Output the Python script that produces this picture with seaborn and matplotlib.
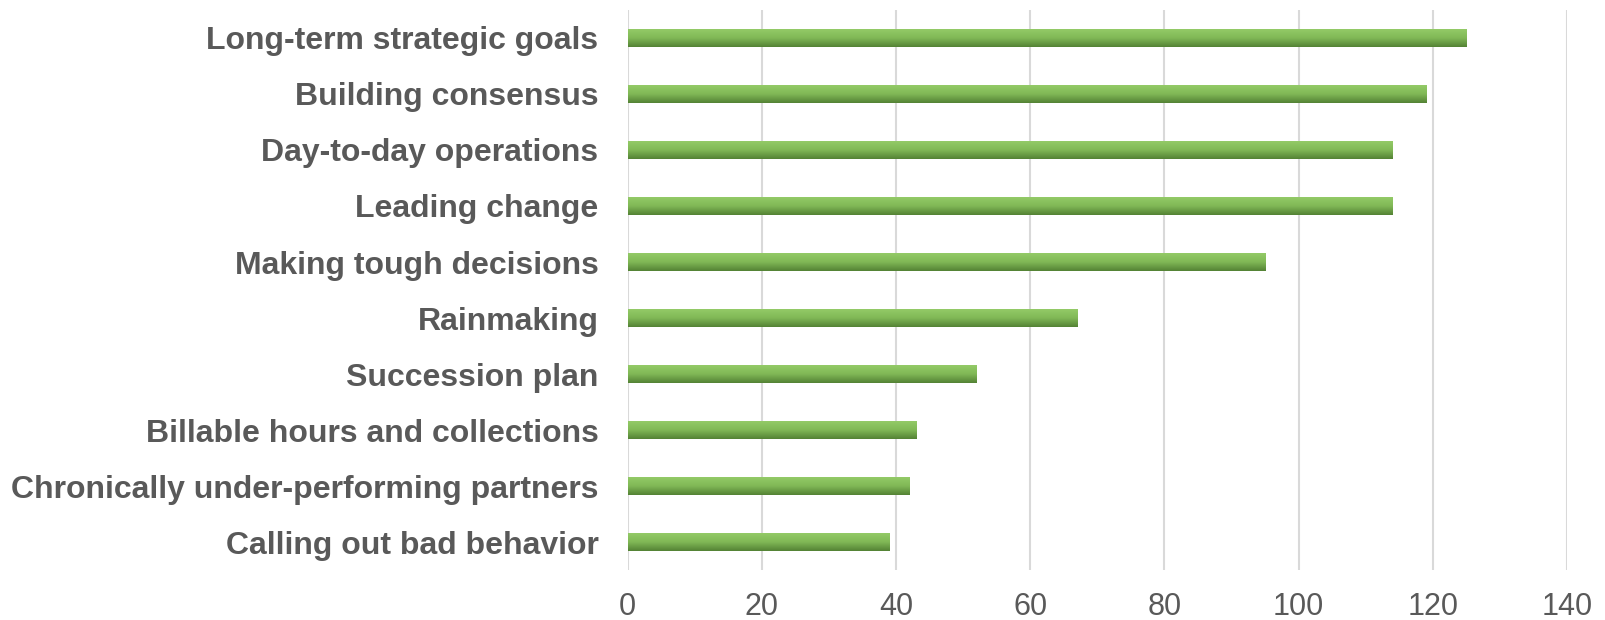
import numpy as np
import pandas as pd
import matplotlib
matplotlib.use("Agg")
import matplotlib.pyplot as plt
from matplotlib.colors import LinearSegmentedColormap
import seaborn as sns

categories = [
    "Long-term strategic goals",
    "Building consensus",
    "Day-to-day operations",
    "Leading change",
    "Making tough decisions",
    "Rainmaking",
    "Succession plan",
    "Billable hours and collections",
    "Chronically under-performing partners",
    "Calling out bad behavior",
]
values = [125, 119, 114, 114, 95, 67, 52, 43, 42, 39]
x_ticks = [0, 20, 40, 60, 80, 100, 120, 140]

df = pd.DataFrame({"category": categories, "value": values})

sns.set_theme(style="white")
plt.rcParams["font.family"] = ["Liberation Sans", "DejaVu Sans"]

fig = plt.figure(figsize=(16.06, 6.2), dpi=100)
ax = fig.add_axes([0.3908, 0.0806, 0.9757 - 0.3908, 0.9839 - 0.0806])

sns.barplot(data=df, x="value", y="category", order=categories,
            color="#70AD47", width=0.32, ax=ax, zorder=3)

# vertical gradient fill (light green on top, darker green at bottom)
grad_cmap = LinearSegmentedColormap.from_list("bar_green", ["#93CA67", "#80B856", "#548235"])
grad = np.linspace(0, 1, 64).reshape(-1, 1)
for patch in ax.patches:
    x0, y0 = patch.get_x(), patch.get_y()
    w, h = patch.get_width(), patch.get_height()
    patch.set_facecolor("none")
    patch.set_edgecolor("none")
    im = ax.imshow(grad, cmap=grad_cmap, aspect="auto", origin="upper",
                   extent=[x0, x0 + w, y0 + h, y0], zorder=3, interpolation="bilinear")
    im.set_clip_path(patch)

ax.set_xlim(0, 140)
ax.set_ylim(len(categories) - 0.5, -0.5)
ax.set_xticks(x_ticks)
ax.set_xticklabels([str(t) for t in x_ticks])
ax.xaxis.grid(True, color="#D9D9D9", linewidth=1.5, zorder=0)
ax.yaxis.grid(False)
for s in ax.spines.values():
    s.set_visible(False)
ax.set_xlabel("")
ax.set_ylabel("")
ax.tick_params(axis="x", length=0, pad=16, labelsize=22, labelcolor="#595959")
ax.tick_params(axis="y", length=0, pad=21, labelsize=23, labelcolor="#595959")
for lbl in ax.get_yticklabels():
    lbl.set_fontweight("bold")

fig.savefig("out.png", dpi=100, facecolor="white")
